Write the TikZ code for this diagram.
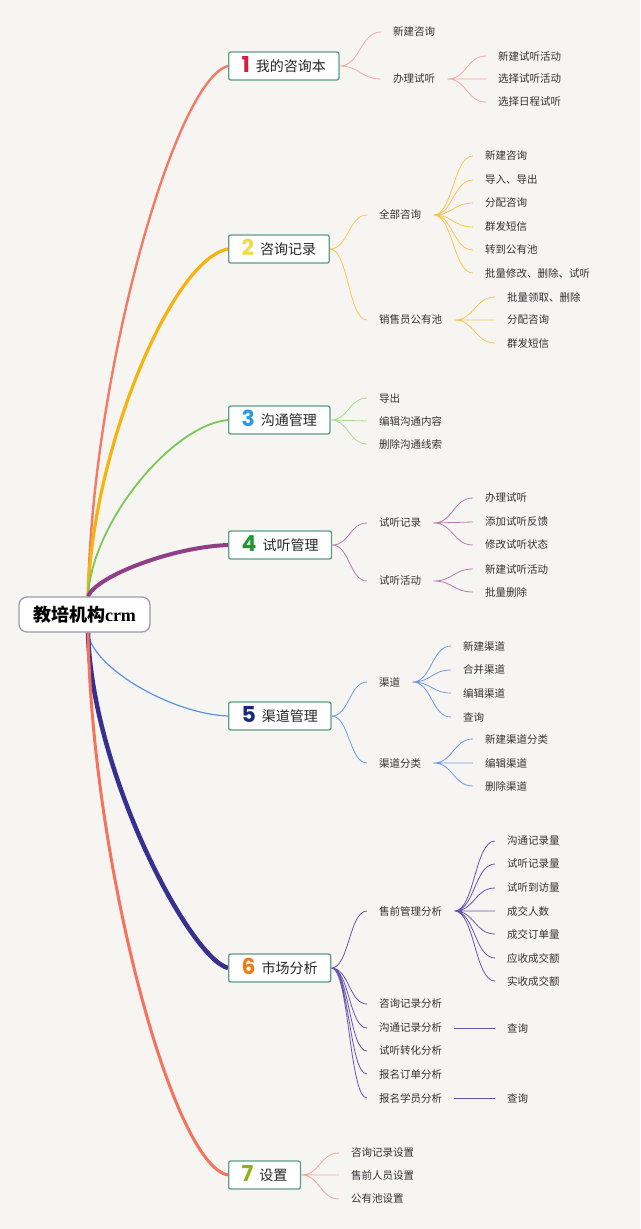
\documentclass[tikz,border=0pt]{standalone}
\usepackage{fontspec}
\setmainfont{Liberation Serif}
\newfontfamily\cjk{Noto Sans CJK SC}
\newfontfamily\numfont{Poppins}
\usetikzlibrary{calc}
\definecolor{bgc}{HTML}{F7F5F2}
\definecolor{txt}{HTML}{333333}
\definecolor{boxc}{HTML}{5E9C86}
\definecolor{rootc}{HTML}{9A9AAE}
\definecolor{n1}{HTML}{D81E3C}
\definecolor{n2}{HTML}{F2D94E}
\definecolor{n3}{HTML}{2B9BE0}
\definecolor{n4}{HTML}{1E9A2E}
\definecolor{n5}{HTML}{1B2A80}
\definecolor{n6}{HTML}{F07A14}
\definecolor{n7}{HTML}{8DB31A}
\definecolor{c1}{HTML}{F47A66}
\definecolor{c2}{HTML}{F8B20E}
\definecolor{c3}{HTML}{7CC856}
\definecolor{c4}{HTML}{8E3F86}
\definecolor{c5}{HTML}{5B92E0}
\definecolor{c6}{HTML}{36308E}
\definecolor{c7}{HTML}{F4725E}
\definecolor{s1}{HTML}{F5A8A2}
\definecolor{s2}{HTML}{F9C651}
\definecolor{s3}{HTML}{A9D98C}
\definecolor{s4}{HTML}{B77BB0}
\definecolor{s5}{HTML}{6C9BE2}
\definecolor{s6}{HTML}{6656AE}
\definecolor{s7}{HTML}{F5A5A0}
\newcommand\mydigit[2]{\raisebox{-1.5pt}{\numfont\bfseries\fontsize{22}{22}\selectfont\color{#1}#2}\hspace{6pt}}
\pgfdeclarelayer{bg}
\pgfdeclarelayer{lines}
\pgfsetlayers{bg,lines,main}
\begin{document}
\begin{tikzpicture}[x=1pt,y=-1pt,
  item/.style={font=\cjk\fontsize{10.5}{12}\selectfont, text=txt, inner xsep=12pt, inner ysep=2pt, anchor=west},
  mainbox/.style={draw=boxc, line width=1.3pt, fill=white, rounded corners=2pt, minimum height=28pt,
    inner xsep=13pt, inner ysep=0pt, text height=11.6pt, text depth=1pt, anchor=west,
    font=\cjk\fontsize{14}{16}\selectfont, text=black!85},
  rootbox/.style={draw=rootc, line width=1.3pt, fill=white, rounded corners=8pt, minimum width=131pt,
    minimum height=35pt, inner sep=0pt, font=\cjk\bfseries\fontsize{18}{20}\selectfont, text=black},
  conn/.style={to path={let \p1=(\tikztostart), \p2=(\tikztotarget), \p3=($(\tikztostart)!0.5!(\tikztotarget)$) in .. controls (\x3,\y1) and (\x3,\y2) .. (\tikztotarget)}},
  sub/.style={line width=0.8pt, conn}
]
\useasboundingbox (0,0) rectangle (640,1229);
\begin{pgfonlayer}{bg}
\fill[bgc] (0,0) rectangle (640,1229);
\end{pgfonlayer}

% root
\node[rootbox] (root) at (84.5,614.5) {教培机构{\rmfamily\bfseries crm}};
\coordinate (rt) at ($(root.north)+(3.5,0)$);
\coordinate (rb) at ($(root.south)+(3.5,0)$);

% main boxes
\node[mainbox] (b1) at (228,66) {\mydigit{n1}{1}我的咨询本};
\node[mainbox] (b2) at (228,249) {\mydigit{n2}{2}咨询记录};
\node[mainbox] (b3) at (228,420) {\mydigit{n3}{3}沟通管理};
\node[mainbox] (b4) at (228,545) {\mydigit{n4}{4}试听管理};
\node[mainbox] (b5) at (228,716) {\mydigit{n5}{5}渠道管理};
\node[mainbox] (b6) at (228,968) {\mydigit{n6}{6}市场分析};
\node[mainbox] (b7) at (228,1175) {\mydigit{n7}{7}设置};

% branch 1
\node[item] (a1) at (381,32) {新建咨询};
\node[item] (a2) at (381,79) {办理试听};
\node[item] (a21) at (486,56) {新建试听活动};
\node[item] (a22) at (486,79) {选择试听活动};
\node[item] (a23) at (486,102) {选择日程试听};

% branch 2
\node[item] (q1) at (367,215) {全部咨询};
\node[item] (q2) at (367,320) {销售员公有池};
\node[item] (q11) at (473,156) {新建咨询};
\node[item] (q12) at (473,180) {导入、导出};
\node[item] (q13) at (473,203) {分配咨询};
\node[item] (q14) at (473,227) {群发短信};
\node[item] (q15) at (473,250) {转到公有池};
\node[item] (q16) at (473,273) {批量修改、删除、试听};
\node[item] (q21) at (495,297) {批量领取、删除};
\node[item] (q22) at (495,320) {分配咨询};
\node[item] (q23) at (495,343) {群发短信};

% branch 3
\node[item] (g1) at (367,398) {导出};
\node[item] (g2) at (367,421) {编辑沟通内容};
\node[item] (g3) at (367,444) {删除沟通线索};

% branch 4
\node[item] (t1) at (367,523) {试听记录};
\node[item] (t2) at (367,581) {试听活动};
\node[item] (t11) at (473,498) {办理试听};
\node[item] (t12) at (473,522) {添加试听反馈};
\node[item] (t13) at (473,545) {修改试听状态};
\node[item] (t21) at (473,569) {新建试听活动};
\node[item] (t22) at (473,592) {批量删除};

% branch 5
\node[item] (d1) at (367,682) {渠道};
\node[item] (d2) at (367,763) {渠道分类};
\node[item] (d11) at (451,646) {新建渠道};
\node[item] (d12) at (451,670) {合并渠道};
\node[item] (d13) at (451,693) {编辑渠道};
\node[item] (d14) at (451,717) {查询};
\node[item] (d21) at (473,739) {新建渠道分类};
\node[item] (d22) at (473,763) {编辑渠道};
\node[item] (d23) at (473,786) {删除渠道};

% branch 6
\node[item] (m1) at (367,911) {售前管理分析};
\node[item] (m11) at (495,841) {沟通记录量};
\node[item] (m12) at (495,864) {试听记录量};
\node[item] (m13) at (495,888) {试听到访量};
\node[item] (m14) at (495,911) {成交人数};
\node[item] (m15) at (495,934) {成交订单量};
\node[item] (m16) at (495,958) {应收成交额};
\node[item] (m17) at (495,981) {实收成交额};
\node[item] (m2) at (367,1004) {咨询记录分析};
\node[item] (m3) at (367,1028) {沟通记录分析};
\node[item] (m4) at (367,1051) {试听转化分析};
\node[item] (m5) at (367,1074) {报名订单分析};
\node[item] (m6) at (367,1098) {报名学员分析};
\node[item] (m31) at (495,1028) {查询};
\node[item] (m61) at (495,1098) {查询};

% branch 7
\node[item] (e1) at (339,1153) {咨询记录设置};
\node[item] (e2) at (339,1175) {售前人员设置};
\node[item] (e3) at (339,1199) {公有池设置};

\begin{pgfonlayer}{lines}
% main branches
\draw[c1, line width=2.4pt] (rt) .. controls +(4,-223) and +(-53,14) .. (b1.west);
\draw[c2, line width=3.2pt] (rt) .. controls +(4,-146) and +(-56,10) .. (b2.west);
\draw[c3, line width=1.8pt] (rt) .. controls +(4,-74) and +(-56,5) .. (b3.west);
\draw[c4, line width=4pt] (rt) .. controls +(8,-20) and +(-56,2) .. (b4.west);
\draw[c5, line width=1.2pt] (rb) .. controls +(4,35) and +(-56,-2) .. (b5.west);
\draw[c6, line width=4.5pt] (rb) .. controls +(4,141) and +(-38,-10) .. (b6.west);
\draw[c7, line width=3pt] (rb) .. controls +(4,228) and +(-56,-10) .. (b7.west);

% branch 1
\draw[s1, sub] (b1.east) to (a1.west) (b1.east) to (a2.west);
\draw[s1, sub] (a2.east) to (a21.west) (a2.east) to (a22.west) (a2.east) to (a23.west);
% branch 2
\draw[s2, sub] (b2.east) to (q1.west) (b2.east) to (q2.west);
\draw[s2, sub] (q1.east) to (q11.west) (q1.east) to (q12.west) (q1.east) to (q13.west)
  (q1.east) to (q14.west) (q1.east) to (q15.west) (q1.east) to (q16.west);
\draw[s2, sub] (q2.east) to (q21.west) (q2.east) to (q22.west) (q2.east) to (q23.west);
% branch 3
\draw[s3, sub] (b3.east) to (g1.west) (b3.east) to (g2.west) (b3.east) to (g3.west);
% branch 4
\draw[s4, sub] (b4.east) to (t1.west) (b4.east) to (t2.west);
\draw[s4, sub] (t1.east) to (t11.west) (t1.east) to (t12.west) (t1.east) to (t13.west);
\draw[s4, sub] (t2.east) to (t21.west) (t2.east) to (t22.west);
% branch 5
\draw[s5, sub] (b5.east) to (d1.west) (b5.east) to (d2.west);
\draw[s5, sub] (d1.east) to (d11.west) (d1.east) to (d12.west) (d1.east) to (d13.west) (d1.east) to (d14.west);
\draw[s5, sub] (d2.east) to (d21.west) (d2.east) to (d22.west) (d2.east) to (d23.west);
% branch 6
\draw[s6, sub] (b6.east) to (m1.west) (b6.east) to (m2.west) (b6.east) to (m3.west)
  (b6.east) to (m4.west) (b6.east) to (m5.west) (b6.east) to (m6.west);
\draw[s6, sub] (m1.east) to (m11.west) (m1.east) to (m12.west) (m1.east) to (m13.west)
  (m1.east) to (m14.west) (m1.east) to (m15.west) (m1.east) to (m16.west) (m1.east) to (m17.west);
\draw[s6, sub] (m3.east) to (m31.west) (m6.east) to (m61.west);
% branch 7
\draw[s7, sub] (b7.east) to (e1.west) (b7.east) to (e2.west) (b7.east) to (e3.west);
\end{pgfonlayer}
\end{tikzpicture}
\end{document}
